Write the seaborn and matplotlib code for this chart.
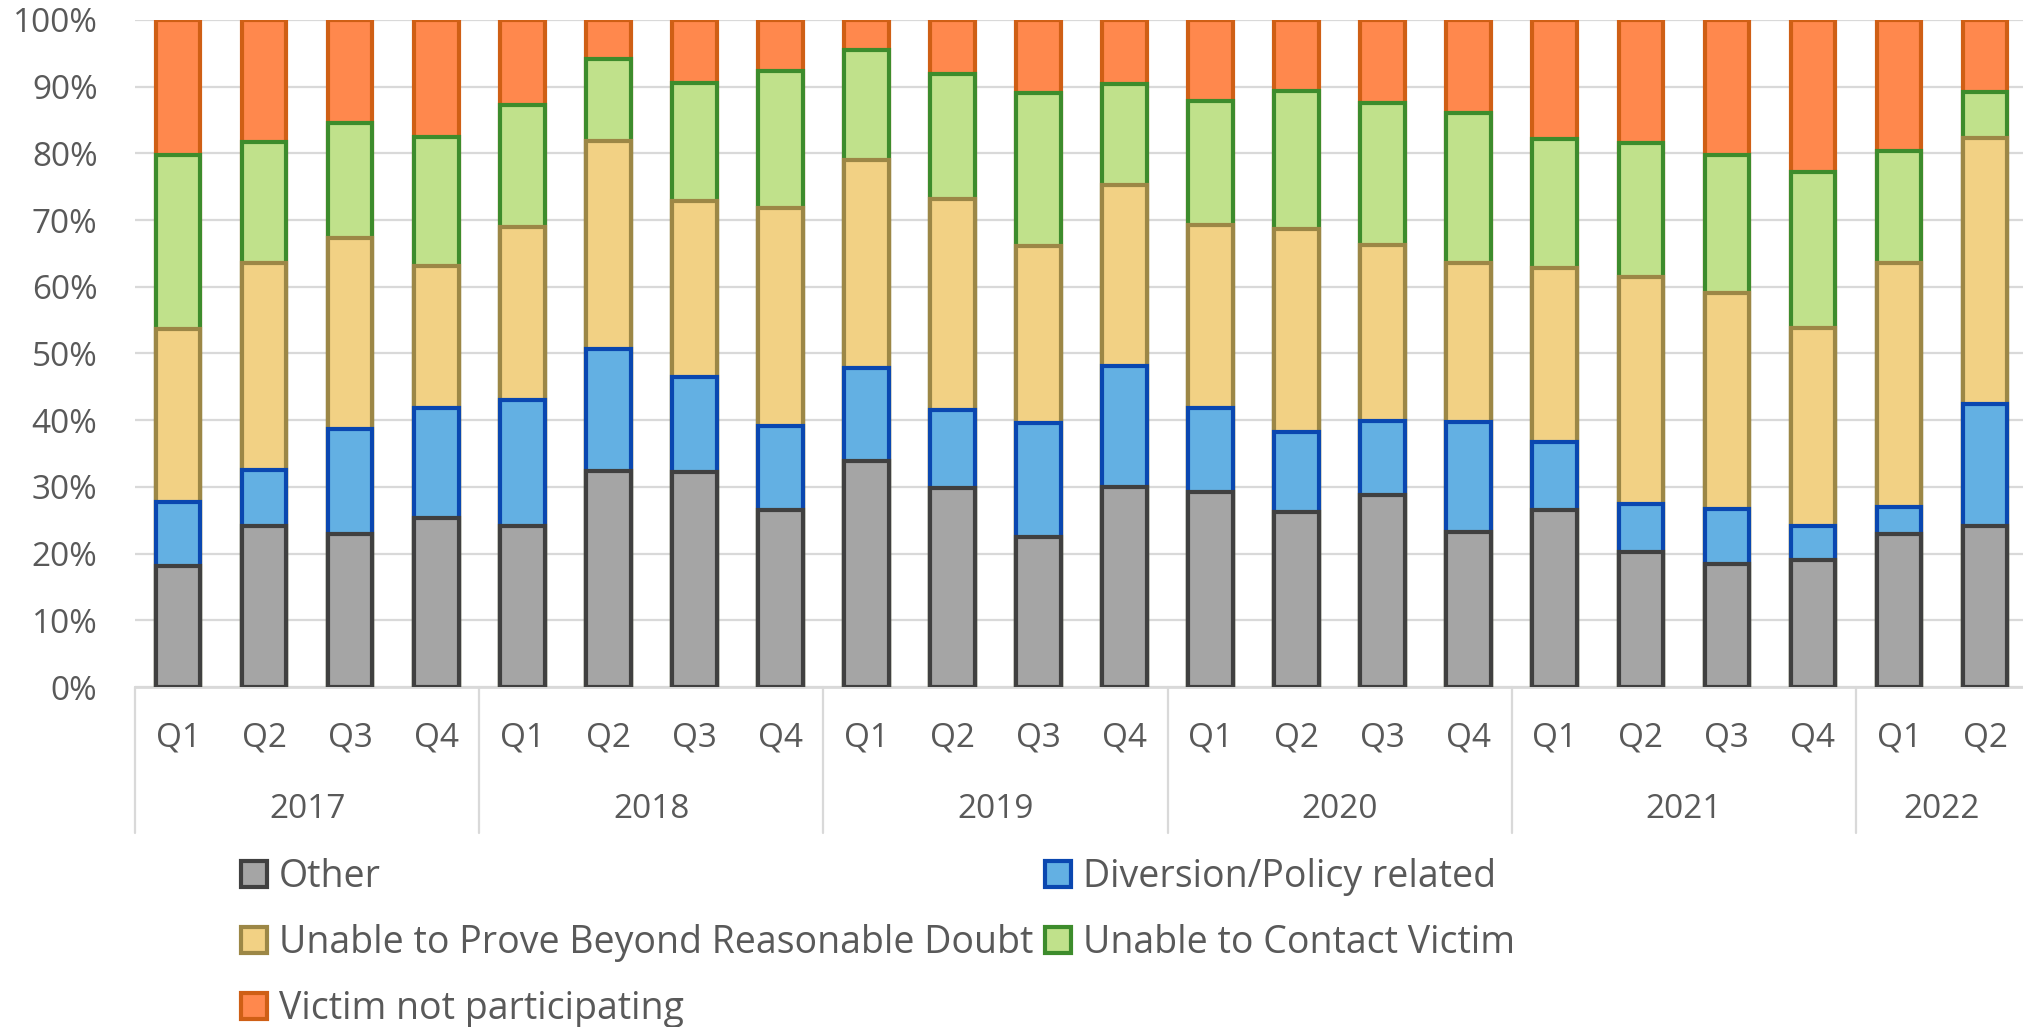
import numpy as np
import pandas as pd
import matplotlib
matplotlib.use("Agg")
import matplotlib.pyplot as plt
import matplotlib.transforms as mtransforms
from matplotlib.patches import Patch
from matplotlib.ticker import PercentFormatter, MultipleLocator
import seaborn as sns

# Quarterly periods
years = ["2017", "2018", "2019", "2020", "2021", "2022"]
quarters_in_year = [4, 4, 4, 4, 4, 2]
quarter_names = ["Q1", "Q2", "Q3", "Q4"]

# Share of cases (%) by reason, one value per quarter
other = [18.1, 24.2, 23.0, 25.4, 24.1, 32.4, 32.2, 26.5, 33.9, 29.9, 22.5,
         30.0, 29.2, 26.3, 28.8, 23.2, 26.5, 20.2, 18.5, 19.0, 22.9, 24.2]
diversion = [9.7, 8.4, 15.7, 16.5, 18.9, 18.2, 14.3, 12.7, 13.9, 11.6, 17.1,
             18.2, 12.7, 11.9, 11.1, 16.6, 10.3, 7.2, 8.2, 5.2, 4.1, 18.2]
prove = [25.8, 30.9, 28.6, 21.2, 25.9, 31.3, 26.3, 32.6, 31.2, 31.6, 26.5,
         27.1, 27.3, 30.4, 26.3, 23.7, 26.0, 34.0, 32.4, 29.6, 36.6, 39.9]
contact = [26.2, 18.2, 17.3, 19.3, 18.3, 12.2, 17.8, 20.5, 16.5, 18.8, 22.9,
           15.1, 18.6, 20.7, 21.3, 22.5, 19.3, 20.1, 20.6, 23.4, 16.8, 6.9]
victim = [20.2, 18.3, 15.4, 17.6, 12.8, 5.9, 9.4, 7.7, 4.5, 8.1, 11.0,
          9.6, 12.2, 10.7, 12.5, 14.0, 17.9, 18.5, 20.3, 22.8, 19.6, 10.8]

series_names = ["Other", "Diversion/Policy related",
                "Unable to Prove Beyond Reasonable Doubt",
                "Unable to Contact Victim", "Victim not participating"]
fills = ["#a5a5a5", "#63b0e3", "#f2d184", "#c0e18b", "#ff884d"]
edges = ["#404040", "#0a47b0", "#9c8746", "#3d8c2c", "#cf5f15"]

periods, qlabels = [], []
for y, n in zip(years, quarters_in_year):
    for q in quarter_names[:n]:
        periods.append(f"{y} {q}")
        qlabels.append(q)

df = pd.DataFrame({"period": periods, series_names[0]: other,
                   series_names[1]: diversion, series_names[2]: prove,
                   series_names[3]: contact, series_names[4]: victim})
shares = df[series_names].div(df[series_names].sum(axis=1), axis=0)
tops = shares.cumsum(axis=1)

sns.set_theme(style="white")
plt.rcParams["font.family"] = ["Open Sans", "DejaVu Sans"]
text_color = "#595959"
grid_color = "#d9d9d9"
fs = 24
legend_fs = 27

W, H = 2023, 1027
fig = plt.figure(figsize=(W / 100, H / 100), dpi=100)
ax_left, ax_top, ax_bottom = 135, 20, 687
ax = fig.add_axes([ax_left / W, 1 - ax_bottom / H, 1 - ax_left / W,
                   (ax_bottom - ax_top) / H])

# 100% stacked bars: draw cumulative totals from the top series down
for i in reversed(range(len(series_names))):
    name = series_names[i]
    sns.barplot(x=df["period"], y=tops[name].values, order=periods,
                color=fills[i], edgecolor=edges[i], linewidth=3,
                width=0.52, saturation=1, errorbar=None, ax=ax, zorder=3)

ax.set_xlim(-0.5, -0.5 + (W - ax_left) / 86.05)
ax.set_ylim(0, 1)
ax.yaxis.set_major_locator(MultipleLocator(0.1))
ax.yaxis.set_major_formatter(PercentFormatter(1.0, decimals=0))
ax.yaxis.grid(True, color=grid_color, linewidth=1.6, zorder=0)
ax.set_axisbelow(True)
ax.tick_params(axis="y", length=0, pad=27, labelsize=fs, labelcolor=text_color)
ax.tick_params(axis="x", length=0, labelbottom=False)
ax.set_xlabel("")
ax.set_ylabel("")
for s in ["top", "right", "left"]:
    ax.spines[s].set_visible(False)
ax.spines["bottom"].set_color(grid_color)
ax.spines["bottom"].set_linewidth(2)

# Two-level category axis: quarters, years and group separators
trans = mtransforms.blended_transform_factory(ax.transData, ax.transAxes)
plot_h = ax_bottom - ax_top
q_y = -(738 - ax_bottom) / plot_h
yr_y = -(810 - ax_bottom) / plot_h
sep_y = -(833 - ax_bottom) / plot_h
for i, q in enumerate(qlabels):
    ax.text(i, q_y, q, transform=trans, ha="center", va="center",
            fontsize=fs, color=text_color)
start = 0
for y, k in zip(years, quarters_in_year):
    ax.text(start + (k - 1) / 2, yr_y, y, transform=trans, ha="center",
            va="center", fontsize=fs, color=text_color)
    ax.plot([start - 0.5, start - 0.5], [0, sep_y], transform=trans,
            color=grid_color, linewidth=1.6, clip_on=False)
    start += k

# Legend in two columns
handles = [Patch(facecolor=fills[i], edgecolor=edges[i], linewidth=3,
                 label=series_names[i]) for i in range(len(series_names))]
order = [0, 2, 4, 1, 3]
leg = fig.legend(handles=[handles[i] for i in order], ncol=2,
                 loc="upper left", bbox_to_anchor=(241 / W, 1 - 858 / H),
                 frameon=False, fontsize=legend_fs, handlelength=0.69,
                 handleheight=0.69, handletextpad=0.32, columnspacing=0.32,
                 labelspacing=0.75, borderpad=0, borderaxespad=0)
for t in leg.get_texts():
    t.set_color(text_color)

fig.savefig("out.png", dpi=100)
